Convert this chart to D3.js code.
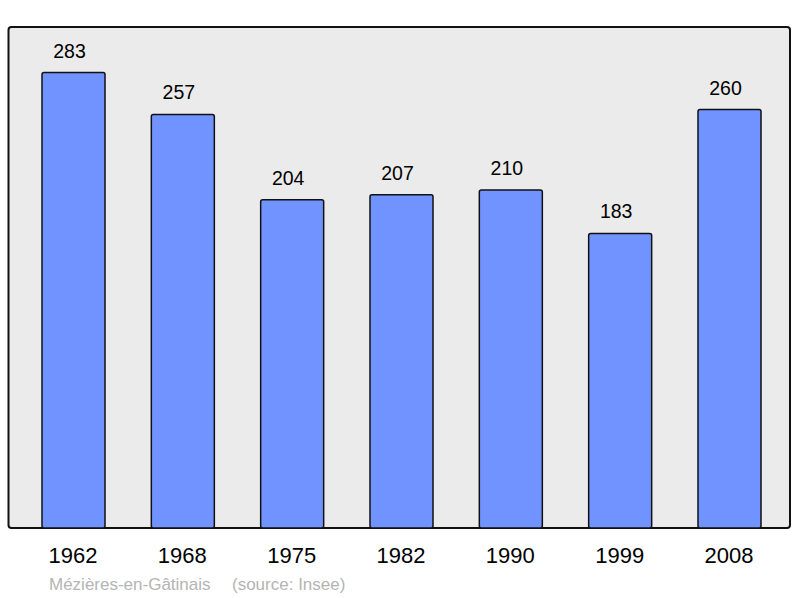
<!DOCTYPE html>
<html><head><meta charset="utf-8">
<script src="https://cdn.jsdelivr.net/npm/d3@7"></script>
<style>body{margin:0;background:#fff;}svg{display:block;font-family:"Liberation Sans",Arial,sans-serif;}</style>
</head><body>
<svg id="c" width="800" height="598"></svg>
<script>
const years = ["1962","1968","1975","1982","1990","1999","2008"];
const population = [283,257,204,207,210,183,260];
const commune = "Mézières-en-Gâtinais";
const source = "(source: Insee)";

const svg = d3.select("#c");
const frame = {left:8.5, top:27, right:790, bottom:528};
svg.append("rect").attr("x",frame.left).attr("y",frame.top)
  .attr("width",frame.right-frame.left).attr("height",frame.bottom-frame.top)
  .attr("rx",3).attr("fill","#ebebeb").attr("stroke","#111").attr("stroke-width",2);

const x = d3.scalePoint().domain(years).range([73.5,729.5]);
const y = d3.scaleLinear().domain([0, d3.max(population)*1.1]).range([frame.bottom, frame.top]);
const bw = 63;

const g = svg.append("g");
g.selectAll("rect.bar").data(years).join("rect").attr("class","bar")
  .attr("x",d=>x(d)-bw/2).attr("width",bw)
  .attr("y",(d,i)=>y(population[i])).attr("height",(d,i)=>frame.bottom-y(population[i]))
  .attr("rx",2).attr("fill","#7093ff").attr("stroke","#111").attr("stroke-width",1.5);

g.selectAll("text.val").data(years).join("text").attr("class","val")
  .attr("x",d=>x(d)-4).attr("y",(d,i)=>y(population[i])-15)
  .attr("text-anchor","middle").attr("font-size",19.5).attr("fill","#000")
  .text((d,i)=>population[i]);

const axis = d3.axisBottom(x).tickSize(0).tickPadding(0);
const ax = svg.append("g").attr("transform",`translate(0,${frame.bottom})`).call(axis);
ax.select(".domain").remove();
ax.selectAll("text").attr("font-size",22).attr("fill","#000").attr("dy",null).attr("y",35).attr("x",-1)
  .attr("font-family","Liberation Sans, Arial, sans-serif");

svg.append("text").attr("x",49).attr("y",590).attr("font-size",17).attr("fill","#b4b4b4").text(commune);
svg.append("text").attr("x",232).attr("y",590).attr("font-size",17).attr("fill","#b4b4b4").text(source);
</script>
</body></html>
